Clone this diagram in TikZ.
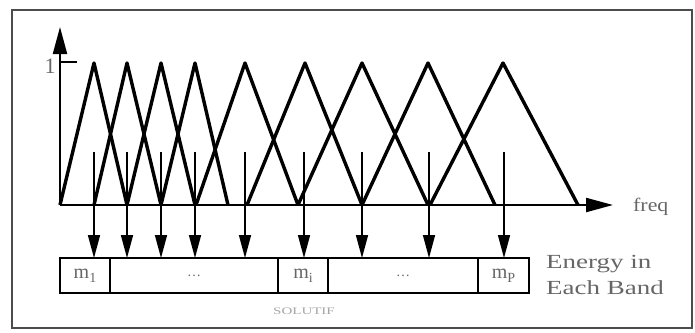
\documentclass[tikz,border=0pt]{standalone}
\usepackage{fontspec}
\setmainfont{Liberation Serif}
\usepackage{graphicx}
\usetikzlibrary{arrows.meta,positioning}

\newcommand{\msub}[1]{m\raisebox{-0.45ex}{\fontsize{14}{14}\selectfont #1}}

\begin{document}
\begin{tikzpicture}[x=1pt,y=-1pt,
		tri/.style={line width=3.4pt,line join=round},
		band/.style={line width=1.6pt,-{Triangle[length=23pt,width=12pt]}},
		cell/.style={draw,line width=1.1pt,minimum height=35pt,inner sep=0pt,outer sep=0pt,
			text=black!60,font=\fontsize{20}{20}\selectfont},
		lbl/.style={text=black!60,inner sep=0pt}]
	\useasboundingbox (0,0) rectangle (695,332);
	\draw[line width=1.4pt,black!70] (12,10) rectangle (692,328);
	% axes
	\draw[line width=2.2pt,-{Triangle[length=27pt,width=14pt]}] (60,205) -- (60,27);
	\draw[line width=2.2pt,-{Triangle[length=27pt,width=14pt]}] (60,205) -- (613,205);
	\draw[line width=1.6pt] (60,62) -- (77,62);
	\node[lbl,font=\fontsize{22}{22}\selectfont] (one) at (50,66) {1};
	\node[lbl,anchor=west,font=\fontsize{19}{19}\selectfont] (freq) at (633,207) {\scalebox{1.15}[1]{freq}};
	% filter bank
	\foreach \l/\p/\r in {60/94/127,94/127/161,127/161/195,161/195/228,196/245/298,
			247/305/362,298/362/428,362/428/495,430/503/578}
		\draw[tri] (\l,205) -- (\p,63) -- (\r,205);
	% energy vector
	\node[cell,minimum width=50pt,anchor=west] (m1) at (60,275.5) {\msub{1}};
	\node[cell,minimum width=168pt,right=0pt of m1] (dotsA) {\fontsize{14}{14}\selectfont\ldots};
	\node[cell,minimum width=50pt,right=0pt of dotsA] (mi) {\msub{i}};
	\node[cell,minimum width=150pt,right=0pt of mi] (dotsB) {\fontsize{14}{14}\selectfont\ldots};
	\node[cell,minimum width=51pt,right=0pt of dotsB] (mP) {\msub{P}};
	\draw[line width=2.2pt] (m1.north east) -- (m1.south east);
	\draw[line width=2.2pt] (mi.north east) -- (mi.south east);
	\foreach \n/\x in {1/94,2/127,3/161,4/195,5/245,6/304,7/362,8/429,9/504} {
		\coordinate (a\n) at (\x,152);
		\draw[band] (a\n) -- (a\n |- m1.north);
	}
	\node[lbl,anchor=west,font=\fontsize{20}{20}\selectfont] (energy) at (546,264) {\scalebox{1.35}[1]{Energy in}};
	\node[lbl,anchor=west,font=\fontsize{20}{20}\selectfont] (each) at (546,288) {\scalebox{1.35}[1]{Each Band}};
	\node[lbl,text=black!35,font=\fontsize{10}{10}\selectfont] (src) at (304,311) {\scalebox{1.5}[1]{SOLUTIF}};
\end{tikzpicture}
\end{document}
